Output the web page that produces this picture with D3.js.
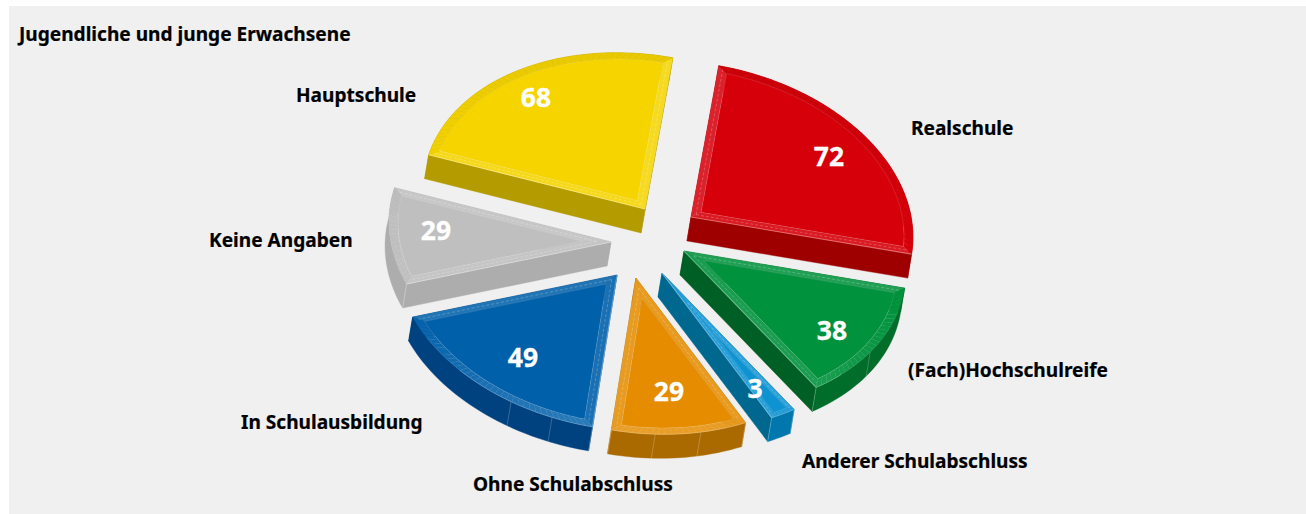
<!DOCTYPE html>
<html><head><meta charset="utf-8">
<script src="https://cdn.jsdelivr.net/npm/d3@7/dist/d3.min.js"></script>
<style>html,body{margin:0;padding:0;background:#fff}svg{display:block}text{font-family:"Noto Sans","Open Sans",sans-serif;font-weight:700}</style>
</head><body><svg id="c" width="1306" height="514"></svg>
<script>
const title = "Jugendliche und junge Erwachsene";
const categories = ["Realschule","(Fach)Hochschulreife","Anderer Schulabschluss","Ohne Schulabschluss","In Schulausbildung","Keine Angaben","Hauptschule"];
const values = [72,38,3,29,49,29,68];
const colors = ["#d6000b","#00923c","#0e93d2","#e58c00","#0060aa","#bfbfbf","#f5d400"];
const wallRadial = ["#9e0000","#005f25","#00678f","#a86800","#00427f","#adadad","#b39b00"];
const wallArc = ["#9e0000","#006d2b","#0078ad","#ab6a00","#00427f","#adadad","#b39b00"];
const seams = [[],[123],[],[163,175],[197,208.5],[],[]];
// layout
const pieCentre=[648,245], radius=222, tilt=155, shear=0.09, depth=[-4,24], bevel=9;
const minSlice=5.6; // the chart draws very small slices wider than their share
const sliceDx=[43,36,14,-12,-31,-37,-3], sliceDy=[-28,6,28,33,30,-3,-36];
const labelX=[911,908,802,473,241,209,296], labelY=[135,377,468,491,429,247,102];
const valueX=[829,832,755,669,523,436,536], valueY=[156,330,388,391,357,230,97];
const startDeg=7.2;

const svg=d3.select("#c");
svg.append("rect").attr("x",9).attr("y",6).attr("width",1297).attr("height",508).attr("fill","#f0f0f0");
const pie=d3.pie().sort(null).value(d=>Math.max(d,minSlice)).startAngle(startDeg*Math.PI/180).endAngle(startDeg*Math.PI/180+2*Math.PI);
const arcs=pie(values);
const line=d3.line();
const white=(c,t)=>d3.interpolateRgb(c,"#fff")(t);
const black=(c,t)=>d3.interpolateRgb(c,"#000")(t);

arcs.forEach((a,i)=>{
  const ax=pieCentre[0]+sliceDx[i], ay=pieCentre[1]+sliceDy[i];
  const P=(r,t,ox=0,oy=0)=>{
    const x=r*Math.sin(t)+ox, y=-r*Math.cos(t)+oy;
    return [ax+x, ay+y*tilt/radius+shear*x];
  };
  const s=a.startAngle,e=a.endAngle,mid=(s+e)/2,half=(e-s)/2;
  const nSteps=Math.max(2,Math.ceil((e-s)/0.03));
  const ts=d3.range(nSteps+1).map(k=>s+(e-s)*k/nSteps);
  const outer=ts.map(t=>P(radius,t));
  const apex=P(0,0);
  const low=p=>[p[0]+depth[0],p[1]+depth[1]];
  const g=svg.append("g").attr("class","slice");
  const wall=(pts,fill)=>g.append("path").attr("d",line([...pts,...pts.slice().reverse().map(low)])+"Z").attr("fill",fill).attr("stroke",fill).attr("stroke-width",.4);
  wall([apex,outer[0]],wallRadial[i]);
  wall([apex,outer[nSteps]],wallRadial[i]);
  wall(outer,wallArc[i]);
  seams[i].forEach(d=>{const q=P(radius,d*Math.PI/180);
    g.append("path").attr("d",line([q,low(q)])).attr("stroke","#fff").attr("stroke-opacity",.3).attr("stroke-width",.7).attr("fill","none");});
  [outer[0],outer[nSteps]].forEach(q=>{
    if(q[1]>ay+60||(i===5&&q===outer[0])) g.append("path").attr("d",line([q,low(q)])).attr("stroke","#fff").attr("stroke-opacity",.35).attr("stroke-width",.7);
  });
  const ins=Math.min(bevel,radius*Math.sin(half)*0.42);
  const d=ins/Math.sin(half);
  const ox=d*Math.sin(mid), oy=-d*Math.cos(mid);
  const rIn=radius-ins;
  const hitAngle=sgn=>{
    const b0=mid+sgn*half;
    const dir=[Math.sin(b0),-Math.cos(b0)];
    const b=ox*dir[0]+oy*dir[1], c=ox*ox+oy*oy-rIn*rIn;
    const l=-b+Math.sqrt(b*b-c);
    return Math.atan2(ox+l*dir[0],-(oy+l*dir[1]));
  };
  let t0=hitAngle(-1), t1=hitAngle(1);
  while(t0<s-1)t0+=2*Math.PI; while(t1<t0)t1+=2*Math.PI;
  const innerArc=d3.range(nSteps+1).map(k=>P(rIn,t0+(t1-t0)*k/nSteps));
  const inApex=P(0,0,ox,oy);

  const base=colors[i];
  const bright=white(base,.5);
  const downEdge=t=>P(radius*.6,t)[1]>P(radius*.6,mid)[1];
  const quad=(p,fill)=>g.append("path").attr("d",line(p)+"Z").attr("fill",fill).attr("stroke",fill).attr("stroke-width",.3);
  const startFront=downEdge(s), endFront=downEdge(e);
  quad([apex,inApex,innerArc[0],outer[0]],white(base,startFront?.1:.13));
  quad([apex,inApex,innerArc[nSteps],outer[nSteps]],white(base,endFront?.1:.13));
  for(let k=0;k<nSteps;k++){
    const tm=(ts[k]+ts[k+1])/2, fr=-Math.cos(tm);
    const col=fr>0?white(base,.16*fr*fr):black(base,.05*(-fr));
    quad([outer[k],outer[k+1],innerArc[k+1],innerArc[k]],col);
  }
  g.append("path").attr("d",line([inApex,...innerArc])+"Z").attr("fill",base).attr("stroke","#fff").attr("stroke-opacity",.22).attr("stroke-width",.6);
  [[outer[0],innerArc[0],startFront],[outer[nSteps],innerArc[nSteps],endFront]].forEach(([o,n,fr])=>{
    const m=[(o[0]+n[0])/2,(o[1]+n[1])/2], am=[(apex[0]+inApex[0])/2,(apex[1]+inApex[1])/2];
    g.append("path").attr("d",line([am,m])).attr("fill","none").attr("stroke","#fff").attr("stroke-opacity",.22).attr("stroke-width",1).attr("stroke-dasharray","3 2");
    if(fr) g.append("path").attr("d",line([apex,o])).attr("fill","none").attr("stroke",bright).attr("stroke-width",1.1).attr("stroke-opacity",.7);
  });
  const hi=ts.map((t,k)=>[t,outer[k]]).filter(([t])=>Math.cos(t)<-.7).map(v=>v[1]);
  if(hi.length>1) g.append("path").attr("d",line(hi)).attr("fill","none").attr("stroke",bright).attr("stroke-width",1).attr("stroke-opacity",.5);
});

svg.append("g").selectAll("text").data(values).join("text")
  .attr("x",(d,i)=>valueX[i]).attr("y",(d,i)=>valueY[i]).attr("dy",".36em").attr("text-anchor","middle")
  .attr("font-size",26.5).attr("fill","#fff").attr("stroke","#fff").attr("stroke-width",.3).text(d=>d);
svg.append("g").selectAll("text").data(categories).join("text")
  .attr("x",(d,i)=>labelX[i]).attr("y",(d,i)=>labelY[i]).attr("font-size",19.1).attr("fill","#000").attr("stroke","#000").attr("stroke-width",.2).text(d=>d);
svg.append("text").attr("x",19).attr("y",41).attr("font-size",19.1).attr("fill","#000").attr("stroke","#000").attr("stroke-width",.2).text(title);
</script></body></html>
